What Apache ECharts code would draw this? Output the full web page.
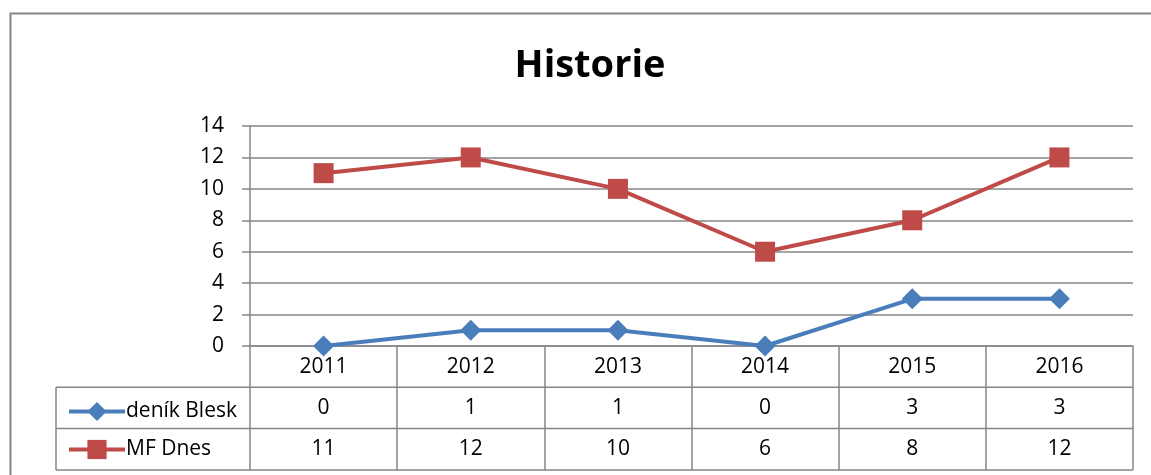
<!DOCTYPE html>
<html>
<head>
<meta charset="utf-8">
<script src="https://cdn.jsdelivr.net/npm/echarts@6/dist/echarts.min.js"></script>
<style>
  html, body { margin: 0; padding: 0; background: #fff; }
  #chart { width: 1151px; height: 475px; }
</style>
</head>
<body>
<div id="chart"></div>
<script>
// Historie - roky a počty
var years = ['2011', '2012', '2013', '2014', '2015', '2016'];
var blesk = [0, 1, 1, 0, 3, 3];
var mfDnes = [11, 12, 10, 6, 8, 12];
var seriesNames = ['deník Blesk', 'MF Dnes'];

var FONT = '"Open Sans", sans-serif';
var GRID_COLOR = '#868686';
var ROW_H = 41.3;
var FS = 21;

// geometrie tabulky pod grafem
var PLOT_L = 250, PLOT_R = 1133, AXIS_Y = 346, TABLE_L = 56;

var myChart = echarts.init(document.getElementById('chart'));

function hLine(y, x1) {
    return {
        type: 'line',
        shape: { x1: x1, y1: y, x2: PLOT_R, y2: y },
        style: { stroke: GRID_COLOR, lineWidth: 1.5 }
    };
}

var option = {
    animation: false,
    title: {
        text: 'Historie',
        left: 585,
        textAlign: 'center',
        top: 42,
        textStyle: { fontFamily: FONT, fontSize: 38, fontWeight: 'bold', color: '#000' }
    },
    legend: {
        orient: 'vertical',
        left: 62,
        top: 396,
        itemGap: 17,
        itemWidth: 56,
        itemHeight: 24,
        data: seriesNames,
        lineStyle: { width: 4 },
        textStyle: { fontFamily: FONT, fontSize: FS, color: '#000', padding: [0, 0, 0, -4] }
    },
    grid: {
        left: PLOT_L,
        top: 126,
        width: PLOT_R - PLOT_L,
        height: AXIS_Y - 126
    },
    xAxis: {
        type: 'category',
        data: years,
        boundaryGap: true,
        axisLine: { lineStyle: { color: GRID_COLOR, width: 1.5 } },
        axisTick: { show: true, length: ROW_H * 3, lineStyle: { color: GRID_COLOR, width: 1.5 } },
        axisLabel: {
            margin: 0,
            interval: 0,
            formatter: function (val, idx) {
                return '{r|' + val + '}\n{r|' + blesk[idx] + '}\n{r|' + mfDnes[idx] + '}';
            },
            rich: {
                r: { fontFamily: FONT, fontSize: FS, color: '#000', lineHeight: ROW_H, align: 'center' }
            }
        }
    },
    yAxis: {
        type: 'value',
        min: 0,
        max: 14,
        interval: 2,
        axisLine: { show: true, lineStyle: { color: GRID_COLOR, width: 1.5 } },
        axisTick: { show: true, length: 8, lineStyle: { color: GRID_COLOR, width: 1.5 } },
        splitLine: { lineStyle: { color: GRID_COLOR, width: 1.5 } },
        axisLabel: { margin: 26, fontFamily: FONT, fontSize: FS, color: '#000' }
    },
    series: [
        {
            name: seriesNames[0],
            type: 'line',
            data: blesk,
            symbol: 'diamond',
            symbolSize: 21,
            lineStyle: { color: '#4a7ebb', width: 4 },
            itemStyle: { color: '#4a7ebb' },
            z: 3
        },
        {
            name: seriesNames[1],
            type: 'line',
            data: mfDnes,
            symbol: 'rect',
            symbolSize: 20,
            lineStyle: { color: '#be4b48', width: 4 },
            itemStyle: { color: '#be4b48' },
            z: 3
        }
    ],
    graphic: [
        // rámeček grafu
        {
            type: 'rect',
            shape: { x: 10.5, y: 13.5, width: 1160, height: 500 },
            style: { fill: 'none', stroke: '#868686', lineWidth: 2 },
            silent: true
        },
        // čáry tabulky
        hLine(AXIS_Y + ROW_H, TABLE_L),
        hLine(AXIS_Y + ROW_H * 2, TABLE_L),
        hLine(AXIS_Y + ROW_H * 3, TABLE_L),
        {
            type: 'line',
            shape: { x1: TABLE_L, y1: AXIS_Y + ROW_H, x2: TABLE_L, y2: AXIS_Y + ROW_H * 3 },
            style: { stroke: GRID_COLOR, lineWidth: 1.5 }
        }
    ]
};

myChart.setOption(option);
</script>
</body>
</html>
